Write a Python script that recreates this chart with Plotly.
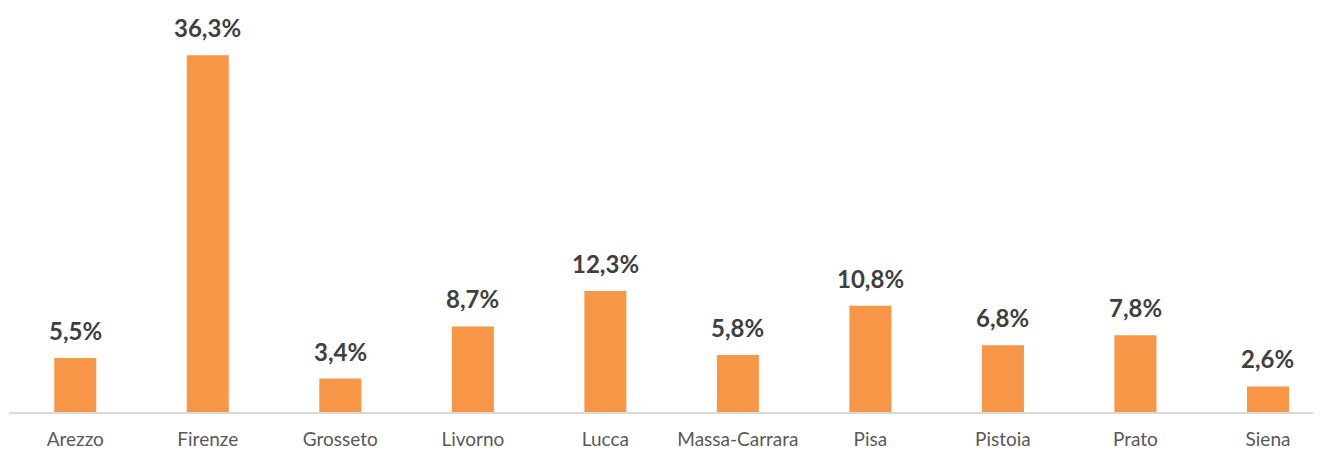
import plotly.graph_objects as go

categories = ["Arezzo", "Firenze", "Grosseto", "Livorno", "Lucca", "Massa-Carrara",
              "Pisa", "Pistoia", "Prato", "Siena"]
values = [5.5, 36.3, 3.4, 8.7, 12.3, 5.8, 10.8, 6.8, 7.8, 2.6]

labels = [f"{v:.1f}%".replace(".", ",") for v in values]

fig = go.Figure()
fig.add_trace(go.Bar(
    x=categories, y=values,
    marker=dict(color="#F79646", line=dict(width=0)),
    width=0.317,
    hoverinfo="skip",
))

for c, v, t in zip(categories, values, labels):
    fig.add_annotation(
        x=c, y=v, text=f"<b>{t}</b>", showarrow=False,
        yanchor="bottom", yshift=11,
        font=dict(family="Lato", size=24, color="#404040"),
    )

fig.update_layout(
    width=1313, height=442,
    margin=dict(l=1, r=0, t=0, b=38, autoexpand=False),
    paper_bgcolor="white", plot_bgcolor="white",
    showlegend=False,
    xaxis=dict(
        range=[-0.5, 9.4], showgrid=False, showline=True, linecolor="#D9D9D9",
        linewidth=1.5, ticks="", ticklabelstandoff=9,
        tickfont=dict(family="Lato", size=19, color="#595959"),
        fixedrange=True,
    ),
    yaxis=dict(range=[0, 41.1], visible=False, fixedrange=True),
)

fig.write_html("out.html", config={"displayModeBar": False})
